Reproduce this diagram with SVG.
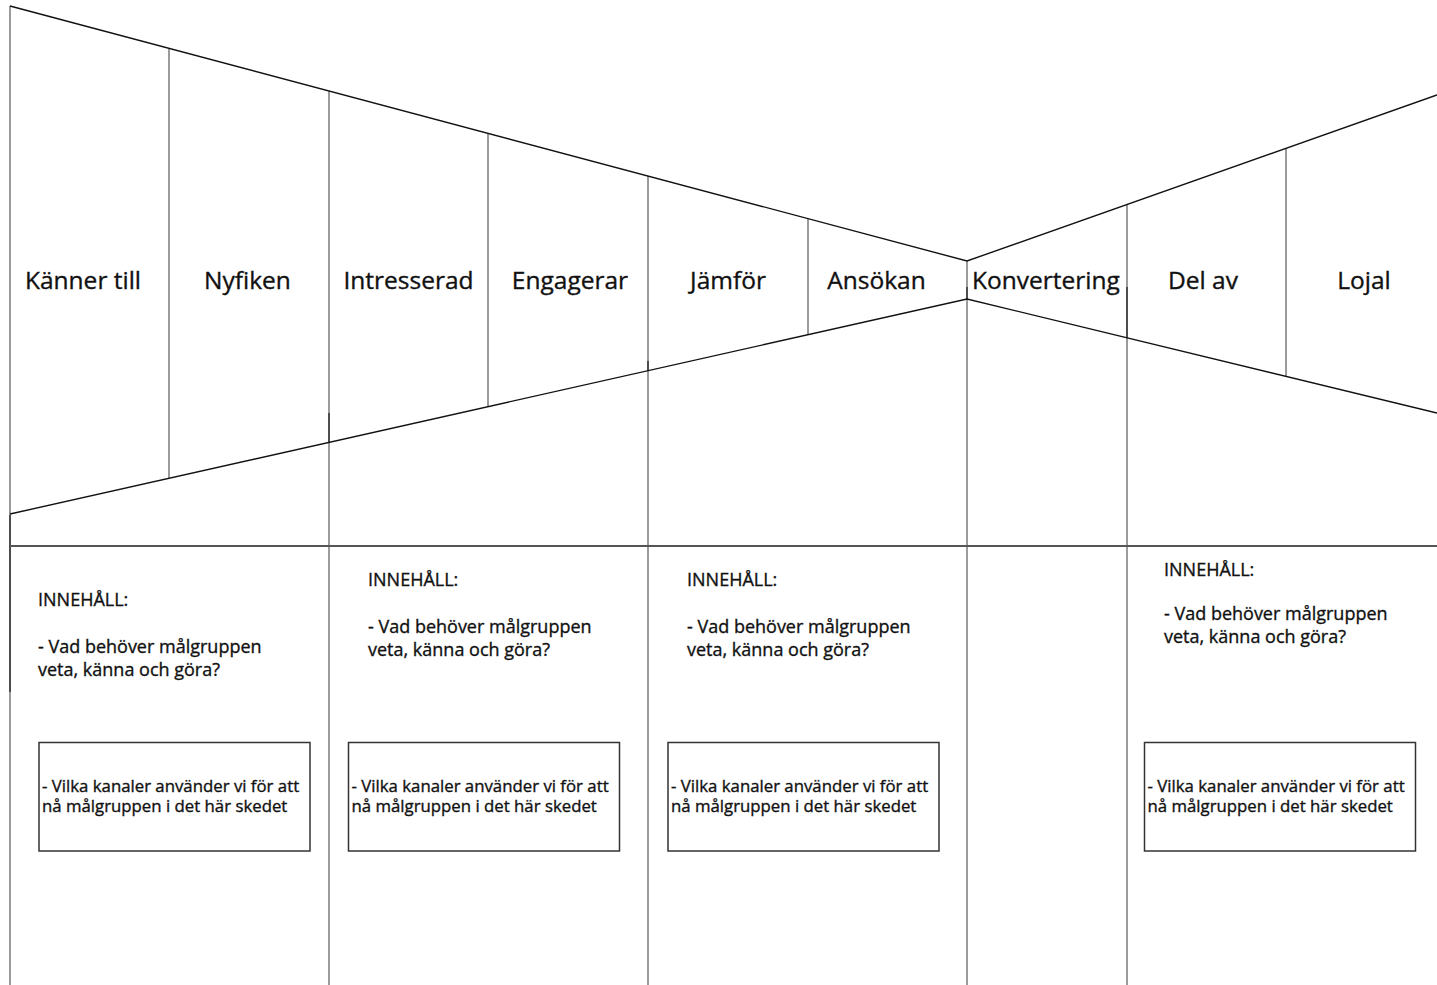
<svg xmlns="http://www.w3.org/2000/svg" width="1437" height="985" viewBox="0 0 1437 985">
<style>
.bg{fill:#fff}
.funnel{stroke:#111;stroke-width:1.4;fill:none}
.div{stroke:#7a7a7a;stroke-width:1.5;fill:none}
.dark{stroke:#333;stroke-width:1.5;fill:none}
.hline{stroke:#555;stroke-width:2;fill:none}
text{stroke:#111;stroke-width:0.35;fill:#111}
.stage{font-family:"Open Sans","Noto Sans",sans-serif;font-size:24.5px;text-anchor:middle}
.body{font-family:"Open Sans","Noto Sans",sans-serif;font-size:18px}
.box{fill:#fff;stroke:#333;stroke-width:1.5}
.boxtext{font-family:"Open Sans","Noto Sans",sans-serif;font-size:16.8px}
</style>
<rect class="bg" x="0" y="0" width="1437" height="985"/>
<g id="connectors">
  <line class="div" x1="10" y1="6" x2="10" y2="985"/>
  <line class="div" x1="169" y1="48.4" x2="169" y2="478.3"/>
  <line class="div" x1="329" y1="91" x2="329" y2="985"/>
  <line class="div" x1="488" y1="133.4" x2="488" y2="406.6"/>
  <line class="div" x1="648" y1="176" x2="648" y2="985"/>
  <line class="div" x1="808" y1="218.7" x2="808" y2="334.7"/>
  <line class="div" x1="967" y1="261" x2="967" y2="985"/>
  <line class="div" x1="1127" y1="204.5" x2="1127" y2="985"/>
  <line class="div" x1="1286" y1="148.3" x2="1286" y2="376.4"/>
  <line class="dark" x1="10" y1="515" x2="10" y2="692"/>
  <line class="dark" x1="329" y1="413" x2="329" y2="442"/>
  <line class="dark" x1="648" y1="361" x2="648" y2="371"/>
  <line class="dark" x1="967" y1="287" x2="967" y2="299"/>
  <line class="dark" x1="1127" y1="287" x2="1127" y2="338"/>
  <polyline class="funnel" points="10,6 967,261 1437,95"/>
  <polyline class="funnel" points="10,514 967,299 1437,413"/>
  <line class="hline" x1="10" y1="546" x2="1437" y2="546"/>
</g>
<g id="stages">
  <text class="stage" x="83" y="289">Känner till</text>
  <text class="stage" x="247.5" y="289">Nyfiken</text>
  <text class="stage" x="408.5" y="289">Intresserad</text>
  <text class="stage" x="570" y="289">Engagerar</text>
  <text class="stage" x="728" y="289">Jämför</text>
  <text class="stage" x="876.5" y="289">Ansökan</text>
  <text class="stage" x="1046" y="289">Konvertering</text>
  <text class="stage" x="1203" y="289">Del av</text>
  <text class="stage" x="1364" y="289">Lojal</text>
</g>
<g id="content1">
  <text class="body" x="38" y="606">INNEHÅLL:</text>
  <text class="body" x="38" y="653">- Vad behöver målgruppen</text>
  <text class="body" x="38" y="676">veta, känna och göra?</text>
</g>
<g id="content2">
  <text class="body" x="368" y="586">INNEHÅLL:</text>
  <text class="body" x="368" y="633">- Vad behöver målgruppen</text>
  <text class="body" x="368" y="656">veta, känna och göra?</text>
</g>
<g id="content3">
  <text class="body" x="687" y="586">INNEHÅLL:</text>
  <text class="body" x="687" y="633">- Vad behöver målgruppen</text>
  <text class="body" x="687" y="656">veta, känna och göra?</text>
</g>
<g id="content4">
  <text class="body" x="1164" y="576">INNEHÅLL:</text>
  <text class="body" x="1164" y="620">- Vad behöver målgruppen</text>
  <text class="body" x="1164" y="643">veta, känna och göra?</text>
</g>
<g id="channel1">
  <rect class="box" x="39" y="742.5" width="271" height="108.5"/>
  <text class="boxtext" x="42" y="792">- Vilka kanaler använder vi för att</text>
  <text class="boxtext" x="42" y="812">nå målgruppen i det här skedet</text>
</g>
<g id="channel2">
  <rect class="box" x="348.5" y="742.5" width="271" height="108.5"/>
  <text class="boxtext" x="351.5" y="792">- Vilka kanaler använder vi för att</text>
  <text class="boxtext" x="351.5" y="812">nå målgruppen i det här skedet</text>
</g>
<g id="channel3">
  <rect class="box" x="668" y="742.5" width="271" height="108.5"/>
  <text class="boxtext" x="671" y="792">- Vilka kanaler använder vi för att</text>
  <text class="boxtext" x="671" y="812">nå målgruppen i det här skedet</text>
</g>
<g id="channel4">
  <rect class="box" x="1144.5" y="742.5" width="271" height="108.5"/>
  <text class="boxtext" x="1147.5" y="792">- Vilka kanaler använder vi för att</text>
  <text class="boxtext" x="1147.5" y="812">nå målgruppen i det här skedet</text>
</g>
</svg>
